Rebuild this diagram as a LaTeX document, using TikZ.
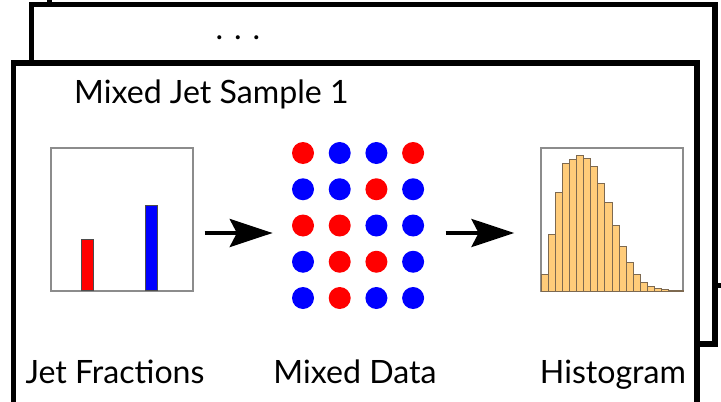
\documentclass[tikz,border=0pt]{standalone}
\usepackage{fontspec}
\setmainfont{Lato}
\usetikzlibrary{arrows.meta,fit}

\definecolor{histfill}{RGB}{255,204,122}
\definecolor{histedge}{RGB}{125,105,80}
\definecolor{panelgray}{RGB}{140,140,140}

\tikzset{
  sheet/.style={draw=black, line width=5.4pt, fill=white},
  panel/.style={draw=panelgray, line width=1.4pt, minimum width=4.97cm, minimum height=5.005cm, inner sep=0pt},
  paneltext/.style={font=\fontsize{32}{38}\selectfont, anchor=base, inner sep=0pt},
  flow/.style={-{Stealth[length=1.5cm, width=0.98cm, inset=0.25cm]}, line width=3.8pt},
  jetbar/.style={draw=black!70, line width=0.8pt},
  histbar/.style={fill=histfill, draw=histedge, line width=1pt},
  jetdot/.style={circle, inner sep=0pt, minimum size=0.77cm},
}

\begin{document}
\begin{tikzpicture}[x=0.035cm, y=-0.035cm]
\useasboundingbox (0,0) rectangle (721,401);

% stacked samples
\begin{scope}
\clip (0,0) rectangle (721,401);
\draw[sheet] (49.5,-54) rectangle (733,285.5);
\draw[sheet] (31.5,4.5) rectangle (715,344);
\draw[sheet] (13.5,63) rectangle (697,406);
\end{scope}

\node[paneltext] (more) at (238,39) {. . .};
\node[paneltext, anchor=base west] (title) at (74,103) {Mixed Jet Sample 1};

% jet fractions
\node[panel] (frac) at (122,219.5) {};
\draw[jetbar, fill=red] (81,290.5) rectangle (93,239);
\draw[jetbar, fill=blue] (145,290.5) rectangle (157,205);

% mixed data
\foreach \cols [count=\i] in {{red,blue,blue,red},{blue,blue,red,blue},{red,red,blue,blue},{blue,red,red,blue},{blue,red,blue,blue}}
  \foreach \c [count=\j] in \cols
    \node[jetdot, fill=\c] (d\i\j) at ({303+36.7*(\j-1)},{153+36.25*(\i-1)}) {};
\node[fit=(d11)(d54), inner sep=0pt] (mixed) {};

% histogram
\node[panel] (hist) at (612,219.5) {};
\foreach \h [count=\k] in {16.3,56.7,98.7,127.7,132,135.3,132.7,124.7,108,88.7,65.3,45,28.7,16.3,8.7,4.7,2.7,1.7,1,0.7}
  \draw[histbar] ({541+7.1*(\k-1)},291) rectangle ++(7.1,-\h);

\draw[flow, shorten <=0.385cm, shorten >=0.665cm] (frac.east |- 0,233) -- (mixed.west |- 0,233);
\draw[flow, shorten <=0.735cm, shorten >=0.91cm] (mixed.east |- 0,233) -- (hist.west |- 0,233);

\node[paneltext] (fraclabel) at (115,383) {Jet Fractions};
\node[paneltext] (mixlabel) at (355,383) {Mixed Data};
\node[paneltext] (histlabel) at (613,383) {Histogram};

\end{tikzpicture}
\end{document}
